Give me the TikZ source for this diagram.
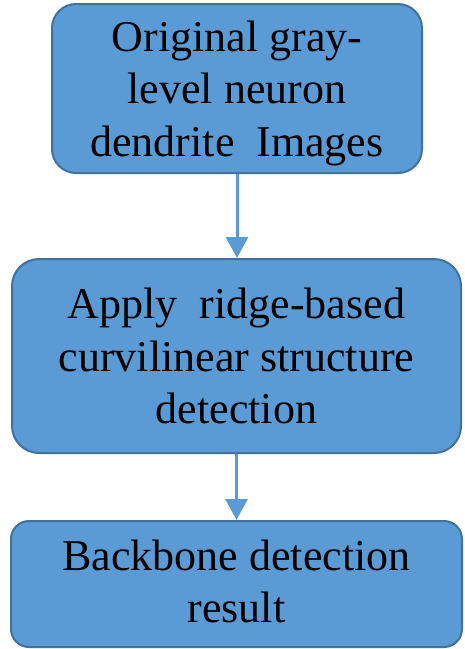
\documentclass[tikz,border=0pt]{standalone}
\usepackage{fontspec}
\setmainfont{Liberation Serif}
\usetikzlibrary{arrows.meta, positioning}
\definecolor{boxfill}{HTML}{5B9BD5}
\definecolor{boxline}{HTML}{41719C}

\begin{document}
\begin{tikzpicture}[x=1pt, y=1pt,
    box/.style={draw=boxline, fill=boxfill, line width=2pt,
                align=center, inner sep=0pt,
                font=\fontsize{44}{52.5}\selectfont},
    flow/.style={draw=boxfill, line width=3pt,
                 -{Triangle[width=22pt, length=21pt]}}]
        \useasboundingbox (0,0) rectangle (464,-649);
        % Draw the boxes
        \node[box, minimum width=370, minimum height=169, rounded corners=24,
              text depth=0pt]
            at (237, -88.5)  (orig)  {Original gray-\\level neuron\\dendrite\ \ Images};
        \node[box, minimum width=449, minimum height=194, rounded corners=27]
            at (236.5, -356) (ridge) {Apply\ \ ridge-based\\curvilinear structure\\detection};
        \node[box, minimum width=451, minimum height=126, rounded corners=18,
              text depth=6pt]
            at (236.5, -584) (back)  {Backbone detection\\result};
        % Connect the boxes with arrows
        \draw[flow] (orig.south) -- (orig.south |- ridge.north);
        \draw[flow] (ridge.south) -- (ridge.south |- back.north);
\end{tikzpicture}
\end{document}
